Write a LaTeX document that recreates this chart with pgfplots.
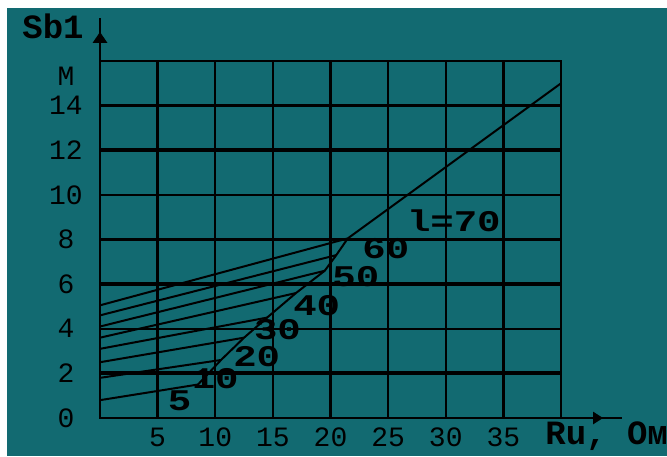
\documentclass[border=0pt]{standalone}
\usepackage{pgfplots}
\pgfplotsset{compat=1.18}
\usepackage{fontspec}
\setmainfont{Liberation Mono}
\definecolor{bgteal}{RGB}{18,106,113}

\begin{document}
\begin{tikzpicture}
\fill[white] (-50pt,-19pt) rectangle (283.5pt,209pt);
\fill[bgteal] (-46.5pt,-19pt) rectangle (283.5pt,205pt);
\begin{axis}[
  at={(0pt,0pt)}, anchor=south west,
  scale only axis, width=230.5pt, height=178.5pt,
  xmin=0, xmax=40, ymin=0, ymax=16,
  xtick={5,10,...,35}, ytick={0,2,...,14},
  grid=major, major grid style={black, line width=1.2pt},
  axis line style={black, line width=1.4pt},
  major tick length=0pt,
  tick label style={font=\fontsize{14}{14}\selectfont, /pgf/number format/assume math mode=true},
  xticklabel style={anchor=center, yshift=-9.5pt},
  yticklabel style={anchor=center, xshift=-17pt},
  clip=false,
]
\draw[black, line width=2pt] (axis cs:0,2) -- (axis cs:40,2);
\draw[black, line width=2pt] (axis cs:0,6) -- (axis cs:40,6);
\draw[black, line width=2pt] (axis cs:0,12) -- (axis cs:40,12);

% l = 70
\addplot[black, line width=1pt] coordinates {(0,5.05) (21.5,8.05) (40,15)};
% l = 60
\addplot[black, line width=1pt] coordinates {(0,4.6) (20.5,7.3)};
% l = 50
\addplot[black, line width=1pt] coordinates {(0,4.1) (19.5,6.6)};
% l = 40
\addplot[black, line width=1pt] coordinates {(0,3.6) (17,5.6)};
% l = 30
\addplot[black, line width=1pt] coordinates {(0,3.1) (14.5,4.5)};
% l = 20
\addplot[black, line width=1pt] coordinates {(0,2.5) (12.5,3.6)};
% l = 10
\addplot[black, line width=1pt] coordinates {(0,1.8) (10.5,2.6)};
% l = 5
\addplot[black, line width=1pt] coordinates {(0,0.8) (8.5,1.5)};
% boundary
\addplot[black, line width=1pt] coordinates {(8.5,1.5) (10.5,2.6) (12.5,3.6) (14.5,4.5) (17,5.6) (19.5,6.6) (20.5,7.3) (21.5,8.05)};

\begin{scope}[every node/.style={inner sep=0pt}, font=\fontsize{15}{15}\selectfont\bfseries]
\node at (axis cs:6.9,0.78) {\scalebox{1.3}[1]{5}};
\node at (axis cs:10.0,1.78) {\scalebox{1.3}[1]{10}};
\node at (axis cs:13.6,2.75) {\scalebox{1.3}[1]{20}};
\node at (axis cs:15.4,3.95) {\scalebox{1.3}[1]{30}};
\node at (axis cs:18.8,5.05) {\scalebox{1.3}[1]{40}};
\node at (axis cs:22.2,6.35) {\scalebox{1.3}[1]{50}};
\node at (axis cs:24.8,7.6) {\scalebox{1.3}[1]{60}};
\node at (axis cs:30.7,8.83) {\scalebox{1.3}[1]{l=70}};
\end{scope}
\node[font=\fontsize{14}{14}\selectfont] at ([xshift=-17pt]axis cs:0,15.3) {M};
\end{axis}
% axis arrows
\draw[black, line width=1.4pt] (0pt,178.5pt) -- (0pt,200pt);
\fill[black] (-3.75pt,187.5pt) -- (3.75pt,187.5pt) -- (0pt,193pt) -- cycle;
\draw[black, line width=1.4pt] (230.5pt,0pt) -- (261pt,0pt);
\fill[black] (246.5pt,-3.2pt) -- (246.5pt,3.2pt) -- (251.5pt,0pt) -- cycle;
\node[font=\fontsize{17}{17}\selectfont\bfseries] at (-23.5pt,196pt) {Sb1};
\node[font=\fontsize{17}{17}\selectfont\bfseries, anchor=west, inner sep=0pt] at (222.5pt,-9pt) {Ru, Ом};
\pgfresetboundingbox
\useasboundingbox (-50pt,-19pt) rectangle (283.5pt,209pt);
\end{tikzpicture}
\end{document}
